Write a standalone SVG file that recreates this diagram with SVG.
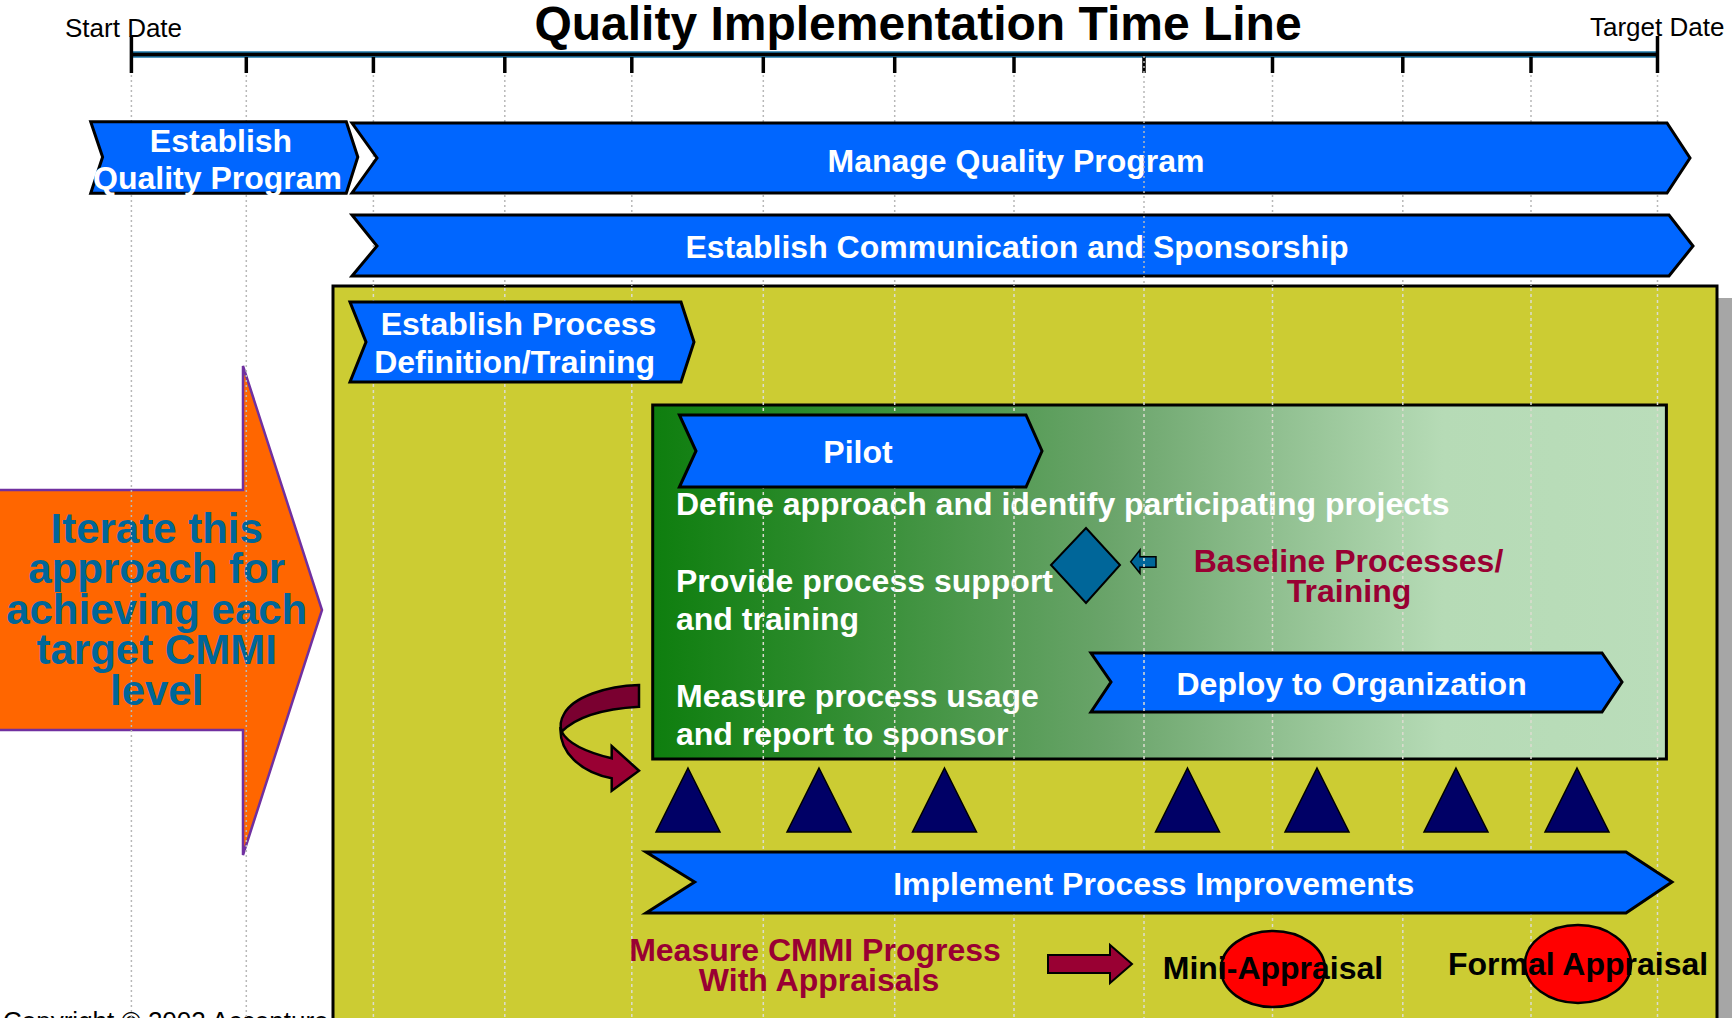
<svg xmlns="http://www.w3.org/2000/svg" width="1732" height="1018" viewBox="0 0 1732 1018">
  <defs>
    <linearGradient id="pilotFade" x1="652" y1="0" x2="1666" y2="0" gradientUnits="userSpaceOnUse">
      <stop offset="0" stop-color="#0E7E0E"/>
      <stop offset="0.15" stop-color="#2A8A2A"/>
      <stop offset="0.45" stop-color="#6AA46A"/>
      <stop offset="0.78" stop-color="#B6DBB6"/>
      <stop offset="1" stop-color="#BADDBA"/>
    </linearGradient>
  </defs>
  <style>
    .bar { fill: #0066FF; stroke: #000; stroke-width: 3; stroke-linejoin: miter; }
    .bt { font-family: "Liberation Sans", Arial, sans-serif; font-weight: bold; font-size: 32px; fill: #FFFFFF; text-anchor: middle; }
    .wt { font-family: "Liberation Sans", Arial, sans-serif; font-weight: bold; font-size: 32px; fill: #FFFFFF; }
    .rt { font-family: "Liberation Sans", Arial, sans-serif; font-weight: bold; font-size: 32px; fill: #990033; text-anchor: middle; }
    .kt { font-family: "Liberation Sans", Arial, sans-serif; font-weight: bold; font-size: 32px; fill: #000000; text-anchor: middle; }
    .ot { font-family: "Liberation Sans", Arial, sans-serif; font-weight: bold; font-size: 42px; fill: #006699; text-anchor: middle; }
    .lbl { font-family: "Liberation Sans", Arial, sans-serif; font-size: 26px; fill: #000000; }
    .tick { stroke: #000; stroke-width: 3.5; }
    .tri { fill: #000066; stroke: #000; stroke-width: 1.5; stroke-linejoin: miter; }
    .gOut { stroke: #B8B8B8; stroke-width: 1.5; stroke-dasharray: 2 3; fill: none; }
    .gIn { stroke: #DCDCD0; stroke-width: 1.5; stroke-dasharray: 3 3; fill: none; }
    .appr { fill: #FF0000; stroke: #000; stroke-width: 2.5; }
  </style>

  <rect x="0" y="0" width="1732" height="1018" fill="#FFFFFF"/>

  <!-- footer -->
  <text class="lbl" x="3" y="1030">Copyright © 2002 Accenture</text>

  <!-- title and time axis -->
  <g id="timeline">
    <text x="918" y="40" font-family="'Liberation Sans', Arial, sans-serif" font-weight="bold" font-size="48" text-anchor="middle" fill="#000">Quality Implementation Time Line</text>
    <text class="lbl" x="65" y="37">Start Date</text>
    <text class="lbl" x="1590" y="36">Target Date</text>
    <rect x="131" y="52" width="1527" height="5" fill="#000" stroke="#1F78A8" stroke-width="1.5"/>
    <line class="tick" x1="131.4" y1="36" x2="131.4" y2="73"/>
    <line class="tick" x1="1657.5" y1="36" x2="1657.5" y2="73"/>
    <g class="ticks">
      <line class="tick" x1="246.3" y1="57" x2="246.3" y2="73"/>
      <line class="tick" x1="373.4" y1="57" x2="373.4" y2="73"/>
      <line class="tick" x1="504.8" y1="57" x2="504.8" y2="73"/>
      <line class="tick" x1="631.8" y1="57" x2="631.8" y2="73"/>
      <line class="tick" x1="763.3" y1="57" x2="763.3" y2="73"/>
      <line class="tick" x1="894.7" y1="57" x2="894.7" y2="73"/>
      <line class="tick" x1="1014" y1="57" x2="1014" y2="73"/>
      <line class="tick" x1="1144" y1="57" x2="1144" y2="73"/>
      <line class="tick" x1="1272.5" y1="57" x2="1272.5" y2="73"/>
      <line class="tick" x1="1402.8" y1="57" x2="1402.8" y2="73"/>
      <line class="tick" x1="1531" y1="57" x2="1531" y2="73"/>
    </g>
  </g>

  <!-- iteration arrow -->
  <g id="iterate">
    <polygon points="-4,490 243,490 243,366 322,610 243,855 243,730 -4,730" fill="#FF6600" stroke="#7030A0" stroke-width="2.5"/>
    <text class="ot" x="156.7" y="543">Iterate this</text>
    <text class="ot" x="156.7" y="583">approach for</text>
    <text class="ot" x="156.7" y="624">achieving each</text>
    <text class="ot" x="156.7" y="664">target CMMI</text>
    <text class="ot" x="156.7" y="705">level</text>
  </g>

  <!-- process improvement area -->
  <g id="improvement-area">
    <rect x="345" y="298" width="1387" height="740" fill="#A6A6A6"/>
    <rect x="333" y="286" width="1384" height="750" fill="#CCCC33" stroke="#000" stroke-width="3"/>
  </g>

  <!-- pilot panel -->
  <g id="pilot-panel">
    <rect x="652.7" y="405" width="1013.7" height="354" fill="url(#pilotFade)" stroke="#000" stroke-width="3"/>
    <text class="wt" x="676" y="515">Define approach and identify participating projects</text>
    <text class="wt" x="676" y="592">Provide process support</text>
    <text class="wt" x="676" y="630">and training</text>
    <text class="wt" x="676" y="707">Measure process usage</text>
    <text class="wt" x="676" y="745">and report to sponsor</text>
  </g>

  <!-- vertical period grid -->
  <g id="grid">
    <line class="gOut" x1="131.4" y1="75" x2="131.4" y2="1018"/>
    <line class="gOut" x1="246.3" y1="75" x2="246.3" y2="1018"/>
    <line class="gOut" x1="373.4" y1="75" x2="373.4" y2="286"/>
    <line class="gOut" x1="504.8" y1="75" x2="504.8" y2="286"/>
    <line class="gOut" x1="631.8" y1="75" x2="631.8" y2="286"/>
    <line class="gOut" x1="763.3" y1="75" x2="763.3" y2="286"/>
    <line class="gOut" x1="894.7" y1="75" x2="894.7" y2="286"/>
    <line class="gOut" x1="1014" y1="75" x2="1014" y2="286"/>
    <line class="gOut" x1="1272.5" y1="75" x2="1272.5" y2="286"/>
    <line class="gOut" x1="1402.8" y1="75" x2="1402.8" y2="286"/>
    <line class="gOut" x1="1531" y1="75" x2="1531" y2="286"/>
    <line class="gOut" x1="1657.5" y1="75" x2="1657.5" y2="286"/>
    <line class="gIn" x1="373.4" y1="288" x2="373.4" y2="1018"/>
    <line class="gIn" x1="504.8" y1="288" x2="504.8" y2="1018"/>
    <line class="gIn" x1="631.8" y1="288" x2="631.8" y2="1018"/>
    <line class="gIn" x1="763.3" y1="288" x2="763.3" y2="1018"/>
    <line class="gIn" x1="894.7" y1="288" x2="894.7" y2="1018"/>
    <line class="gIn" x1="1014" y1="288" x2="1014" y2="1018"/>
    <line class="gIn" x1="1272.5" y1="288" x2="1272.5" y2="1018"/>
    <line class="gIn" x1="1402.8" y1="288" x2="1402.8" y2="1018"/>
    <line class="gIn" x1="1531" y1="288" x2="1531" y2="1018"/>
    <line class="gIn" x1="1657.5" y1="288" x2="1657.5" y2="1018"/>
  </g>

  <!-- phase bars -->
  <g id="establish-quality">
    <polygon class="bar" points="90.7,121.7 346.3,121.7 357.8,157 346.3,193.3 90.7,193.3 102.6,157"/>
    <text class="bt" x="221" y="151.5">Establish</text>
    <text class="bt" x="217.5" y="189">Quality Program</text>
  </g>
  <g id="manage-quality">
    <polygon class="bar" points="352,123 1667,123 1690,158 1667,193 352,193 377,158"/>
    <text class="bt" x="1016" y="171.5">Manage Quality Program</text>
  </g>
  <g id="communication">
    <polygon class="bar" points="352,215 1669,215 1693,246 1669,276 352,276 377,246"/>
    <text class="bt" x="1017" y="257.5">Establish Communication and Sponsorship</text>
  </g>
  <g id="process-definition">
    <polygon class="bar" points="350,302 681,302 694,342 681,382 350,382 366,342"/>
    <text class="bt" x="518.5" y="335">Establish Process</text>
    <text class="bt" x="514.6" y="373">Definition/Training</text>
  </g>
  <g id="pilot">
    <polygon class="bar" points="679.4,415 1026,415 1042,451 1026,487 679.4,487 696,451"/>
    <text class="bt" x="858" y="463">Pilot</text>
  </g>
  <g id="baseline">
    <polygon points="1086,528 1120,565 1086,603 1051,565" fill="#006699" stroke="#000" stroke-width="2"/>
    <polygon points="1130.7,561.7 1140,550 1140,556.7 1156,556.7 1156,567.3 1140,567.3 1140,573.3" fill="#006699" stroke="#000" stroke-width="1.5"/>
    <text class="rt" x="1348.5" y="572">Baseline Processes/</text>
    <text class="rt" x="1349" y="602">Training</text>
  </g>
  <g id="deploy">
    <polygon class="bar" points="1091,653 1602,653 1622,682 1602,712 1091,712 1111,682"/>
    <text class="bt" x="1351.6" y="695">Deploy to Organization</text>
  </g>

  <!-- improvement cycles -->
  <g id="cycles">
    <polygon class="tri" points="688,768 720,832 656,832"/>
    <polygon class="tri" points="819,768 851,832 787,832"/>
    <polygon class="tri" points="944.5,768 976.5,832 912.5,832"/>
    <polygon class="tri" points="1187.5,768 1219.5,832 1155.5,832"/>
    <polygon class="tri" points="1317,768 1349,832 1285,832"/>
    <polygon class="tri" points="1456,768 1488,832 1424,832"/>
    <polygon class="tri" points="1577,768 1609,832 1545,832"/>
  </g>

  <g id="implement">
    <polygon class="bar" points="646,852 1626,852 1672,882 1626,913 646,913 694.6,882"/>
    <text class="bt" x="1153.7" y="894.5">Implement Process Improvements</text>
  </g>

  <!-- connectors -->
  <g id="connectors" stroke="#000" stroke-width="2.5" stroke-linejoin="miter">
    <path d="M639,685 C606,686 573,697 564,714 C560,721 560,727 561.7,731.7 C575,718 600,709 639,706.7 Z" fill="#7A0030"/>
    <path d="M560.5,727 C559,752 580,772 611.7,778.3 L611.7,790.7 L639,770.7 L611.7,746 L611.7,758.3 C590,753 568,744 561.7,731.7 Z" fill="#990033"/>
    <polygon points="1048,955 1110,955 1110,945 1132,964 1110,983 1110,973 1048,973" fill="#990033" stroke-width="2"/>
  </g>

  <g id="appraisal-note">
    <text class="rt" x="815" y="961">Measure CMMI Progress</text>
    <text class="rt" x="819" y="991">With Appraisals</text>
  </g>
  <g id="mini-appraisal">
    <ellipse class="appr" cx="1273" cy="969" rx="52" ry="38"/>
    <text class="kt" x="1273" y="978.5">Mini-Appraisal</text>
  </g>
  <g id="formal-appraisal">
    <ellipse class="appr" cx="1578" cy="964" rx="53" ry="39"/>
    <text class="kt" x="1578" y="974.5">Formal Appraisal</text>
  </g>

  <!-- grid line running over the communication and deploy bars -->
  <g id="grid-over">
    <line class="gOut" x1="1144" y1="56" x2="1144" y2="286"/>
    <line class="gIn" x1="1144" y1="288" x2="1144" y2="850"/>
    <line class="gIn" x1="1144" y1="915" x2="1144" y2="1018"/>
  </g>
</svg>
